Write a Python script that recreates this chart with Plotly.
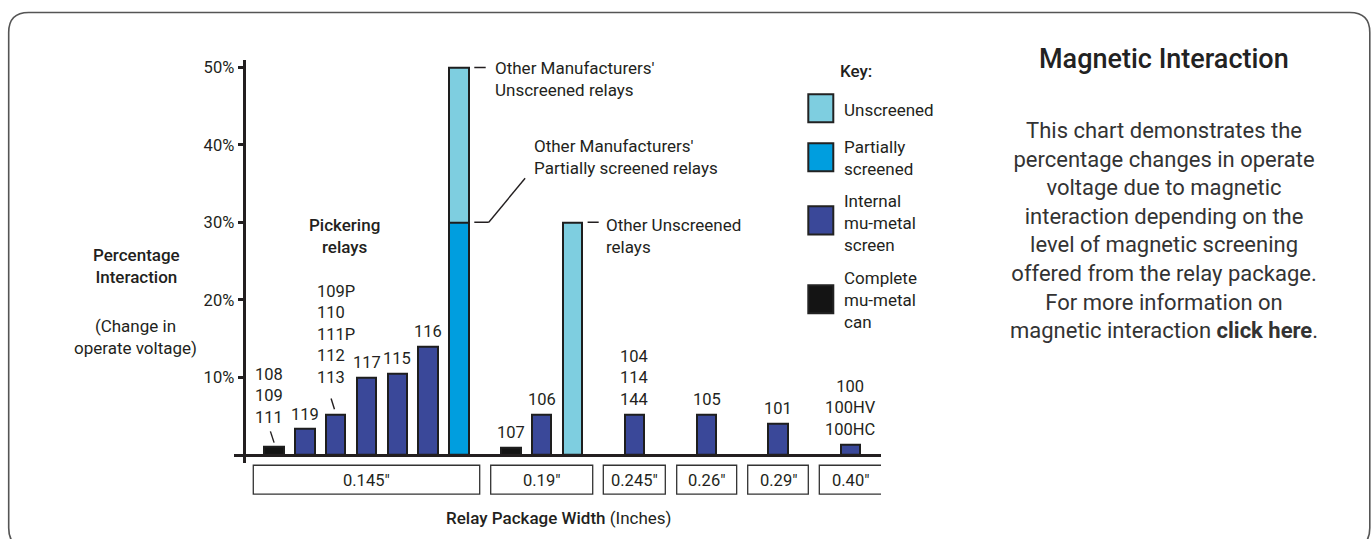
import plotly.graph_objects as go

W, H = 1371, 539

# ---------------- data ----------------
relay_labels = ["108<br>109<br>111", "119", "109P<br>110<br>111P<br>112<br>113", "117", "115", "116",
                "Other Manufacturers'", "107", "106", "Other Unscreened",
                "104<br>114<br>144", "105", "101", "100<br>100HV<br>100HC"]
package_widths = ['0.145"', '0.19"', '0.245"', '0.26"', '0.29"', '0.40"']
relays_per_package = [7, 3, 1, 1, 1, 1]

unscreened = [None, None, None, None, None, None, 50, None, None, 30, None, None, None, None]
partially_screened = [None, None, None, None, None, None, 30, None, None, None, None, None, None, None]
internal_mu_metal = [None, 3.3, 5.2, 9.9, 10.5, 13.9, None, None, 5.2, None, 5.2, 5.2, 4.0, 1.3]
complete_mu_metal = [1.0, None, None, None, None, None, None, 0.9, None, None, None, None, None, None]

y_tick_values = [10, 20, 30, 40, 50]
y_tick_labels = ["10%", "20%", "30%", "40%", "50%"]

key_names = ["Unscreened", "Partially<br>screened", "Internal<br>mu-metal<br>screen", "Complete<br>mu-metal<br>can"]

# ---------------- layout constants ----------------
FONT = "Roboto, sans-serif"
TXT = "#231f20"
OUTLINE = "#1e1e1e"
COLORS = ["#7ecee0", "#009edf", "#3a4899", "#141414"]

SLOT_PX = 30.8      # pixel width of one bar slot
X0_PX = 274.7       # pixel of slot 0
ZERO_PY = 454.3     # pixel of 0 %
PCT_PX = 7.772      # pixels per 1 %
BAR_W = 0.633
GROUP_SPANS = [(-0.695, 6.656), (7.013, 10.325), (10.669, 12.682),
               (13.052, 14.999), (15.357, 17.325), (17.682, 19.708)]


def dx(px):
    return (px - X0_PX) / SLOT_PX


def dy(py):
    return (ZERO_PY - py) / PCT_PX


def PX(px):
    return px / W


def PY(py):
    return 1 - py / H


bar_x = []
for (l, r), n in zip(GROUP_SPANS, relays_per_package):
    c = (l + r) / 2
    bar_x += [c + i - (n - 1) / 2 for i in range(n)]

fig = go.Figure()
for vals, name, col in zip([unscreened, partially_screened, internal_mu_metal, complete_mu_metal],
                           key_names, COLORS):
    fig.add_trace(go.Bar(x=bar_x, y=vals, name=name.replace("<br>", " "), width=BAR_W,
                         marker=dict(color=col, line=dict(color=OUTLINE, width=2)),
                         showlegend=False, hoverinfo="skip"))

AX_L, AX_R, AX_T, AX_B = 234, 881, 58, 463
YAX_PX = 244.3

fig.update_layout(
    width=W, height=H, autosize=False,
    margin=dict(l=0, r=0, t=0, b=0, pad=0),
    paper_bgcolor="white", plot_bgcolor="rgba(0,0,0,0)",
    barmode="overlay", bargap=0,
    font=dict(family=FONT, color=TXT, size=17),
    xaxis=dict(domain=[PX(AX_L), PX(AX_R)], range=[dx(AX_L), dx(AX_R)],
               anchor="free", position=PY(ZERO_PY),
               showline=True, linecolor=TXT, linewidth=2.5,
               showticklabels=False, ticks="", showgrid=False, zeroline=False, fixedrange=True),
    yaxis=dict(domain=[PY(AX_B), PY(AX_T)], range=[dy(AX_B), dy(AX_T)],
               anchor="free", position=PX(YAX_PX),
               showline=True, linecolor=TXT, linewidth=2.5,
               tickvals=y_tick_values, ticktext=y_tick_labels,
               ticks="outside", ticklen=6, tickwidth=2.5, tickcolor=TXT,
               tickfont=dict(size=16.5, color=TXT, family=FONT),
               showgrid=False, zeroline=False, fixedrange=True),
)

shapes = []
ann = []

# ---- outer rounded frame ----
L, T, R, B, r = 8.7, 10.5, 1369.8, 548, 20
p = lambda x, y: f"{PX(x):.6f},{PY(y):.6f}"
frame = (f"M {p(L + r, T)} L {p(R - r, T)} Q {p(R, T)} {p(R, T + r)} L {p(R, B - r)} "
         f"Q {p(R, B)} {p(R - r, B)} L {p(L + r, B)} Q {p(L, B)} {p(L, B - r)} "
         f"L {p(L, T + r)} Q {p(L, T)} {p(L + r, T)} Z")
shapes.append(dict(type="path", xref="paper", yref="paper", path=frame,
                   line=dict(color="#555555", width=1.6)))

# ---- package width boxes ----
for (l, rr), lab in zip(GROUP_SPANS, package_widths):
    shapes.append(dict(type="rect", xref="x", yref="paper", x0=l, x1=rr, y0=PY(494), y1=PY(465),
                       line=dict(color="#333333", width=1.3), fillcolor="white"))
    ann.append(dict(x=(l + rr) / 2, y=PY(480), xref="x", yref="paper", text=lab, showarrow=False,
                    font=dict(size=16.5), xanchor="center", yanchor="middle"))

# ---- bar labels ----
tops = []
for i in range(len(relay_labels)):
    vals = [v for v in (unscreened[i], partially_screened[i], internal_mu_metal[i], complete_mu_metal[i]) if v is not None]
    tops.append(max(vals))
label_xshift = {0: -5, 2: -21}
label_yshift = {0: 18, 2: 25}
for i, lab in enumerate(relay_labels):
    if lab.startswith("Other"):
        continue
    ann.append(dict(x=bar_x[i], y=tops[i], xref="x", yref="y", text=lab, showarrow=False,
                    font=dict(size=16.5), align="left" if i == 2 else "center",
                    xanchor="left" if i == 2 else "center", yanchor="bottom",
                    xshift=label_xshift.get(i, 0), yshift=label_yshift.get(i, 3.5)))

# leader slashes
def seg(x0, y0, x1, y1, w=1.4):
    shapes.append(dict(type="line", xref="x", yref="y", x0=x0, y0=y0, x1=x1, y1=y1,
                       line=dict(color=TXT, width=w)))

seg(bar_x[0] - 0.12, tops[0] + 2.0, bar_x[0], tops[0] + 0.55)
seg(bar_x[2] - 0.15, tops[2] + 2.05, bar_x[2] - 0.04, tops[2] + 0.65)
# callout leaders
om = bar_x[6]
seg(om + 0.5, unscreened[6], om + 0.87, unscreened[6])
seg(om + 0.5, partially_screened[6], om + 0.97, partially_screened[6])
seg(om + 0.97, partially_screened[6], om + 2.15, partially_screened[6] + 5.7)
ou = bar_x[9]
seg(ou + 0.49, unscreened[9], ou + 0.85, unscreened[9])

# callout texts
def txt(x, y, text, xanchor="left", size=17, weight=None, align=None, color=TXT):
    f = dict(size=size, color=color)
    if weight:
        f["weight"] = weight
    ann.append(dict(x=PX(x), y=PY(y), xref="paper", yref="paper", text=text, showarrow=False,
                    font=f, xanchor=xanchor, yanchor="middle", align=align or xanchor))

txt(493.3, 77.2, "Other Manufacturers'<br>Unscreened relays")
txt(532.3, 155.3, "Other Manufacturers'<br>Partially screened relays")
txt(604, 234.5, "Other Unscreened<br>relays")
txt(344, 235, "Pickering<br>relays", xanchor="center", weight=500)

# y-axis title
txt(136.5, 265.2, "Percentage<br>Interaction", xanchor="center", weight=500)
txt(135, 335.8, "(Change in<br>operate voltage)", xanchor="center")

# x-axis title
txt(559, 518.3, "<span style='font-weight:500'>Relay Package Width</span> (Inches)", xanchor="center")

# ---- key ----
txt(855.5, 69.3, "Key:", xanchor="center", weight=500)
key_boxes = [(92.7, 120.7), (141.7, 170), (205, 233.3), (284.3, 312.3)]
key_text_y = [108.3, 157, 221.7, 299.3]
for (y0, y1), name, col, ty in zip(key_boxes, key_names, COLORS, key_text_y):
    shapes.append(dict(type="rect", xref="paper", yref="paper", x0=PX(808.3), x1=PX(833.3),
                       y0=PY(y1), y1=PY(y0), fillcolor=col, line=dict(color="#222222", width=2)))
    txt(842, ty, name)

# ---- right panel ----
txt(1164, 57, "Magnetic Interaction", xanchor="center", size=27, weight=500, color="#222222")
body = ("This chart demonstrates the<br>percentage changes in operate<br>voltage due to magnetic<br>"
        "interaction depending on the<br>level of magnetic screening<br>offered from the relay package.<br>"
        "For more information on<br>magnetic interaction <b>click here</b>.")
txt(1163.5, 229.7, body, xanchor="center", size=22, color="#333333")

fig.update_layout(shapes=shapes, annotations=ann)

fig.write_html("out.html", config={"displayModeBar": False},
               post_script="document.body.style.margin='0';")
